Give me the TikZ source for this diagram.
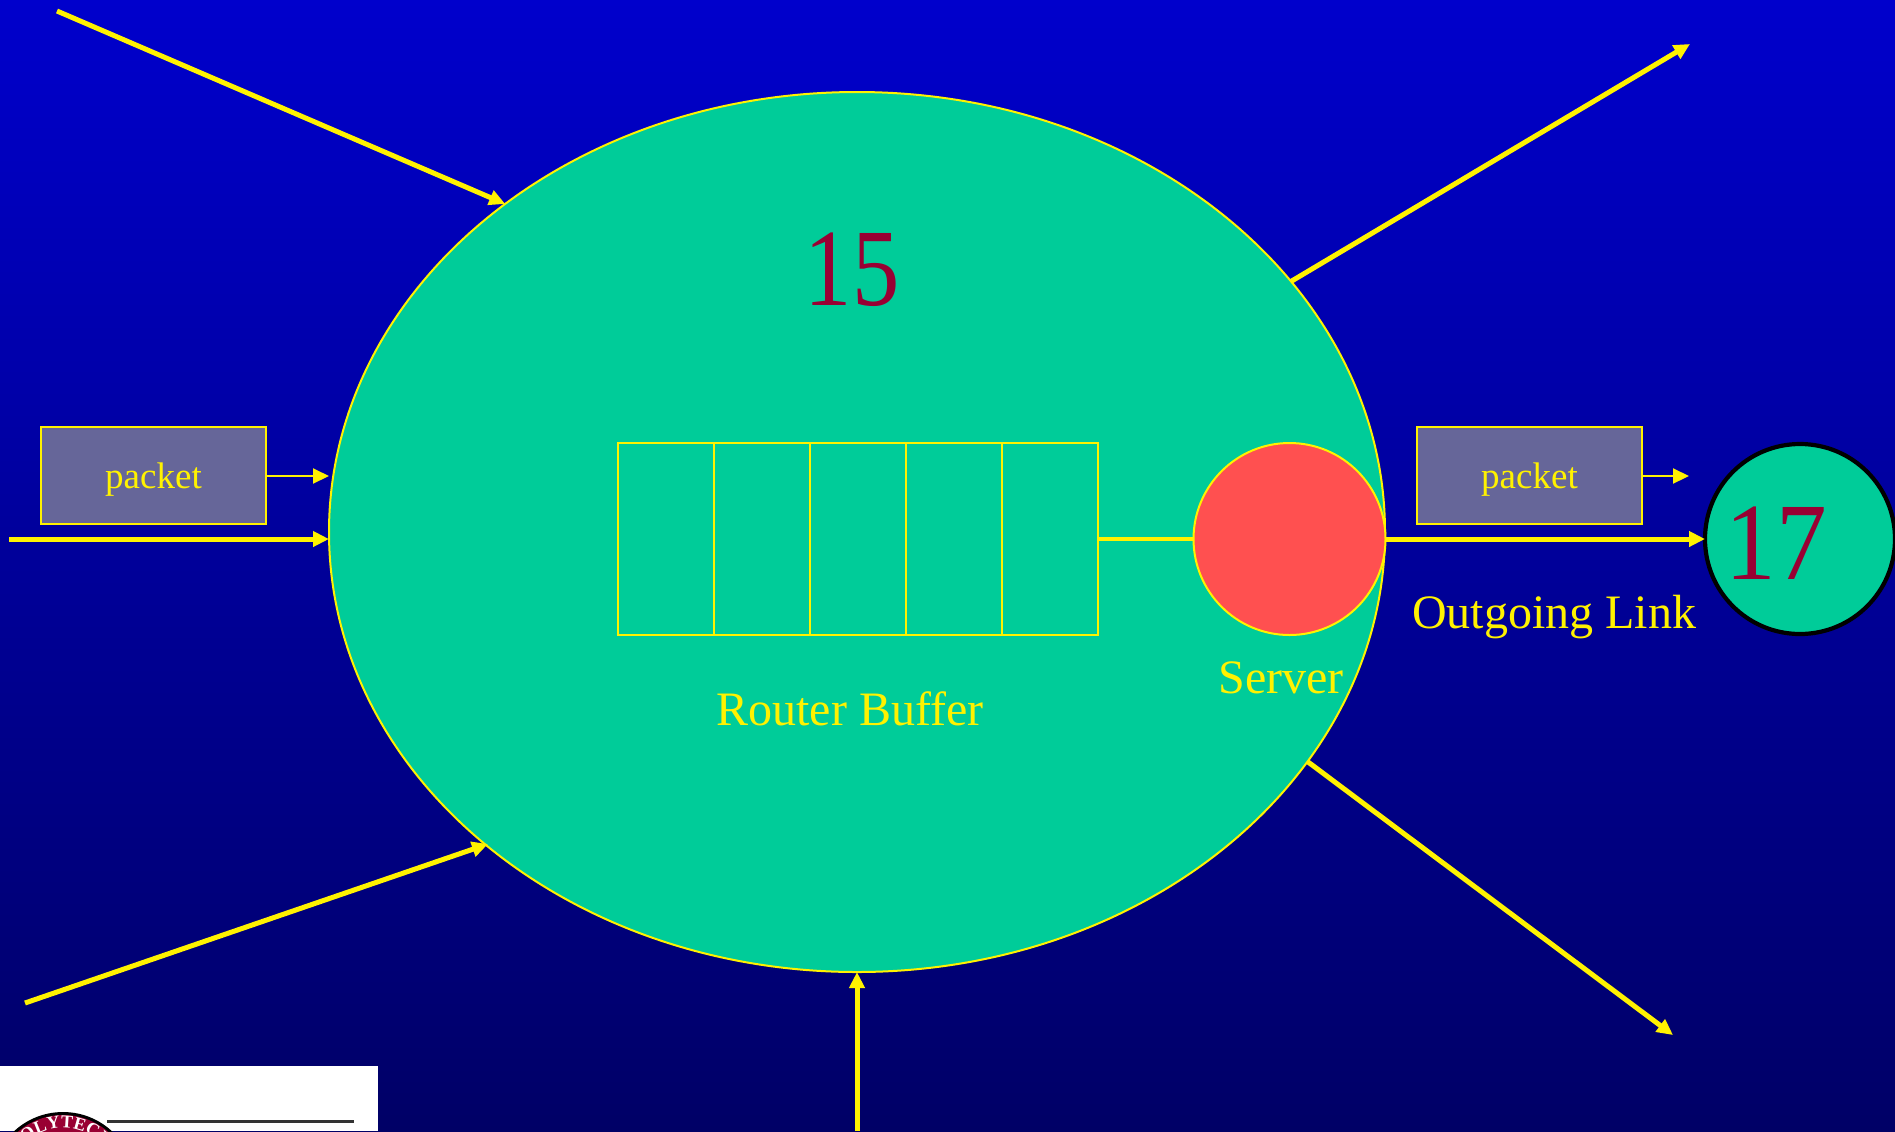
\documentclass[tikz,border=0pt]{standalone}
\usepackage{fontspec}
\setmainfont{Liberation Serif}
\usetikzlibrary{arrows.meta,shapes.geometric,decorations.text}
\definecolor{routergreen}{HTML}{00CC99}
\definecolor{serverred}{HTML}{FF5050}
\definecolor{packetgrey}{HTML}{666699}
\definecolor{numberred}{HTML}{990033}
\tikzset{
  biglink/.style={yellow, line width=2.5pt, -{Triangle[length=8pt,width=7.5pt]}},
  smalllink/.style={yellow, line width=1pt, -{Triangle[length=8pt,width=7.5pt]}},
  packetbox/.style={draw=yellow, line width=1pt, fill=packetgrey, text=yellow, text depth=0pt,
    minimum width=112.5pt, minimum height=48.5pt, inner sep=0pt, outer sep=0pt, font=\fontsize{18.5}{20}\selectfont},
  cellbox/.style={draw=yellow, line width=1pt, minimum width=48pt, minimum height=96pt, inner sep=0pt, outer sep=0pt},
  yellowtext/.style={text=yellow, inner sep=0pt, font=\fontsize{24}{26}\selectfont},
  numbertext/.style={text=numberred, inner sep=0pt, font=\fontsize{55}{58}\selectfont},
}
\begin{document}
\begin{tikzpicture}[x=0.5pt, y=-0.5pt]
                \useasboundingbox (0, 0) rectangle (1895, 1131);
                \clip (0, 0) rectangle (1895, 1131);
                \shade[top color={rgb,255:red,0;green,0;blue,204}, bottom color={rgb,255:red,0;green,0;blue,102}] (0, 0) rectangle (1895, 1131);
                % logo in the corner
                \fill[white] (0, 1066) rectangle (378, 1131);
                \fill[black] (63, 1184) circle (72);
                \fill[numberred] (63, 1184) circle (69);
                \path[postaction={decorate, decoration={text along path, text align=center,
                    text={|\fontsize{9}{10}\selectfont\bfseries\color{white}|POLYTECHNIC}}}]
                    (63, 1184) ++(195:56) arc (195:375:56);
                \draw[line width=1.5pt, black!80] (107, 1121) -- (354, 1121);
                % router
                \node(router) at(857, 532) [ellipse, draw=yellow, fill=routergreen, line width=1pt, minimum width=528pt, minimum height=440pt, inner sep=0pt, outer sep=0pt] {};
                \foreach \i in {1,...,5}
                    \node(cell\i) at({617.5+96*(\i-0.5)}, 539) [cellbox] {};
                \node(server) at(1289.5, 539) [circle, draw=yellow, fill=serverred, line width=1pt, minimum size=96pt, inner sep=0pt, outer sep=0pt] {};
                \node(next_hop) at(1800, 539) [circle, draw=black, fill=routergreen, line width=2.1pt, minimum size=95pt, inner sep=0pt, outer sep=0pt] {};
                % packets
                \node(pkt_in) at(153.5, 475.5) [packetbox] {packet};
                \node(pkt_out) at(1529.5, 475.5) [packetbox] {packet};
                % free ends
                \coordinate (in_top) at(57, 11);
                \coordinate (in_left) at(9, 539);
                \coordinate (in_low) at(25, 1003);
                \coordinate (in_low_end) at(488, 844);
                \coordinate (in_bottom) at(857, 1131);
                \coordinate (out_top) at(1690, 44);
                \coordinate (out_low) at(1673, 1035);
                \coordinate (pkt_in_end) at(329, 476);
                \coordinate (pkt_out_end) at(1689, 476);
                \draw[biglink] (in_top) -- (router.137);
                \draw[biglink] (in_left) -- (router.west |- in_left);
                \draw[biglink] (in_low) -- (in_low_end);
                \draw[biglink] (in_bottom) -- (router.south);
                \draw[biglink] (router.30) -- (out_top);
                \draw[biglink] (router.-27.3) -- (out_low);
                \draw[biglink] (server.east) -- (next_hop.west);
                \draw[yellow, line width=2pt] (cell5.east) -- (server.west);
                \draw[smalllink] (pkt_in.east |- pkt_in_end) -- (pkt_in_end);
                \draw[smalllink] (pkt_out.east |- pkt_out_end) -- (pkt_out_end);
                % texts
                \node(num_router) at(852, 270) [numbertext] {\scalebox{0.86}[1]{15}};
                \node(num_next) at(1776, 543) [numbertext] {\scalebox{0.92}[1]{17}};
                \node(lbl_buffer) at(850, 709) [yellowtext] {Router Buffer};
                \node(lbl_server) at(1281, 678) [yellowtext] {Server};
                \node(lbl_link) at(1554, 628) [yellowtext, anchor=base] {Outgoing Link};
            \end{tikzpicture}
\end{document}
